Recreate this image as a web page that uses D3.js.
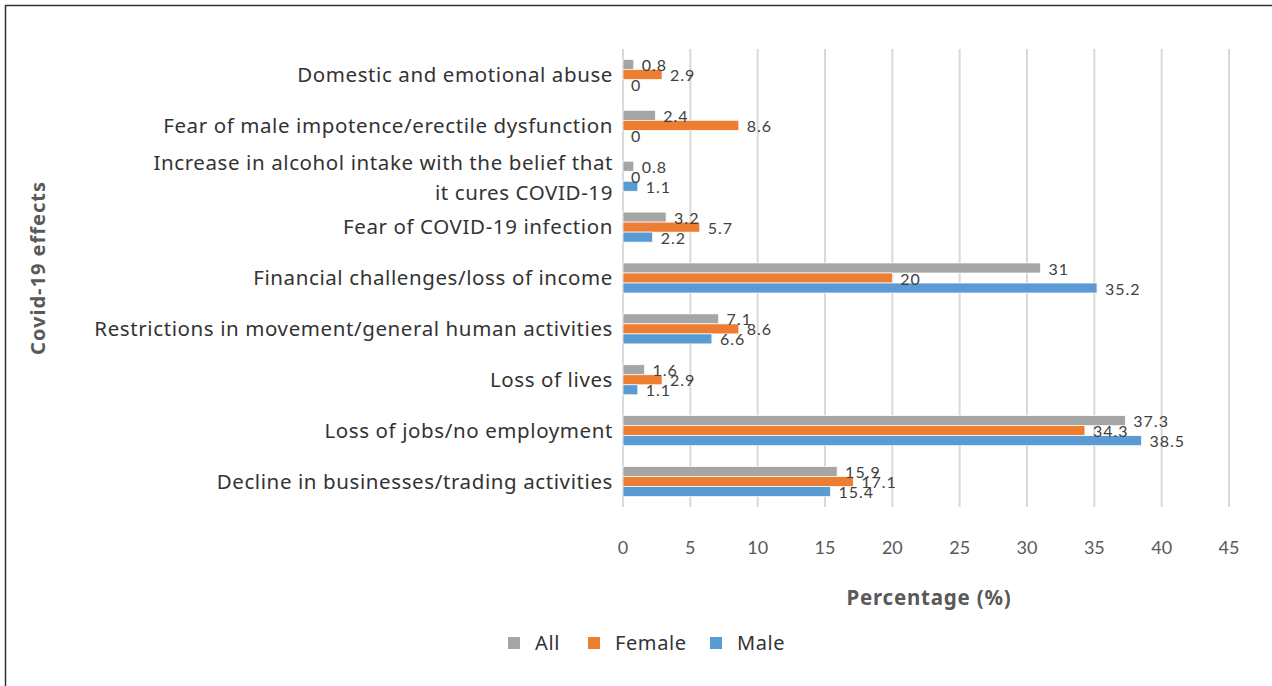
<!DOCTYPE html>
<html>
<head>
<meta charset="utf-8">
<script src="https://cdn.jsdelivr.net/npm/d3@7"></script>
<style>
  body { margin: 0; background: #fff; }
  svg { display: block; }
</style>
</head>
<body>
<script>
// chart data
var categories = [
    "Domestic and emotional abuse",
    "Fear of male impotence/erectile dysfunction",
    "Increase in alcohol intake with the belief that|it cures COVID-19",
    "Fear of COVID-19 infection",
    "Financial challenges/loss of income",
    "Restrictions in movement/general human activities",
    "Loss of lives",
    "Loss of jobs/no employment",
    "Decline in businesses/trading activities"
];
var seriesNames = ["All", "Female", "Male"];
var allValues    = [0.8, 2.4, 0.8, 3.2, 31, 7.1, 1.6, 37.3, 15.9];
var femaleValues = [2.9, 8.6, 0, 5.7, 20, 8.6, 2.9, 34.3, 17.1];
var maleValues   = [0, 0, 1.1, 2.2, 35.2, 6.6, 1.1, 38.5, 15.4];
var xTicks = [0, 5, 10, 15, 20, 25, 30, 35, 40, 45];
var seriesColors = ["#a5a5a5", "#ed7d31", "#5b9bd5"];

var width = 1272, height = 686;
var plot = { left: 623, right: 1229, top: 49, bottom: 507 };

var svg = d3.select("body").append("svg")
    .attr("width", width)
    .attr("height", height);

// frame lines (top + left only)
svg.append("line").attr("x1", 5).attr("x2", width).attr("y1", 5.5).attr("y2", 5.5)
    .attr("stroke", "#333").attr("stroke-width", 1.5);
svg.append("line").attr("x1", 5.5).attr("x2", 5.5).attr("y1", 5).attr("y2", height)
    .attr("stroke", "#333").attr("stroke-width", 1.5);

var x = d3.scaleLinear().domain([0, 45]).range([plot.left, plot.right]);
var y = d3.scaleBand().domain(categories).range([plot.top, plot.bottom])
    .paddingInner(0.41).paddingOuter(0.205);
var ySub = d3.scaleBand().domain(seriesNames).range([0, y.bandwidth()]);

// gridlines
svg.append("g").selectAll("line").data(xTicks).join("line")
    .attr("x1", d => x(d)).attr("x2", d => x(d))
    .attr("y1", plot.top).attr("y2", plot.bottom)
    .attr("stroke", "#d9d9d9").attr("stroke-width", 2);

// tick labels
svg.append("g").selectAll("text").data(xTicks).join("text")
    .attr("x", d => x(d)).attr("y", 548)
    .attr("text-anchor", "middle").attr("dy", "0.35em")
    .attr("font-family", "Lato, 'Noto Sans', sans-serif").attr("font-size", 18)
    .attr("fill", "#595959")
    .text(d => d);

var rows = categories.map(function (c, i) {
    return { cat: c, values: [allValues[i], femaleValues[i], maleValues[i]] };
});

var groups = svg.append("g").selectAll("g").data(rows).join("g")
    .attr("transform", d => "translate(0," + y(d.cat) + ")");

groups.selectAll("rect").data(d => d.values.map((v, k) => ({ v: v, s: seriesNames[k], k: k })))
    .join("rect")
    .attr("x", x(0))
    .attr("y", d => ySub(d.s))
    .attr("width", d => x(d.v) - x(0))
    .attr("height", ySub.bandwidth())
    .attr("fill", d => seriesColors[d.k])
    .attr("stroke", "#fff").attr("stroke-width", 0.7);

groups.selectAll("text.val").data(d => d.values.map((v, k) => ({ v: v, s: seriesNames[k] })))
    .join("text").attr("class", "val")
    .attr("x", d => x(d.v) + 8)
    .attr("y", d => ySub(d.s) + ySub.bandwidth() / 2 + 1)
    .attr("dy", "0.35em")
    .attr("font-family", "Lato, 'Noto Sans', sans-serif").attr("font-size", 16)
    .attr("letter-spacing", 1)
    .attr("fill", "#404040")
    .text(d => d.v);

// category labels
var catLabels = svg.append("g").selectAll("text").data(categories).join("text")
    .attr("x", 613)
    .attr("y", d => y(d) + y.bandwidth() / 2)
    .attr("text-anchor", "end")
    .attr("font-family", "'Noto Sans', sans-serif").attr("font-size", 20.5)
    .attr("letter-spacing", 0.6)
    .attr("fill", "#333");
catLabels.each(function (d) {
    var lines = d.split("|");
    var t = d3.select(this);
    var off = -(lines.length - 1) / 2 * 30 + (lines.length > 1 ? 2 : 0);
    lines.forEach(function (ln, i) {
        t.append("tspan").attr("x", 613)
            .attr("y", y(d) + y.bandwidth() / 2 + off + i * 30)
            .attr("dy", "0.35em")
            .text(ln);
    });
});

// axis titles
svg.append("text")
    .attr("x", (plot.left + plot.right) / 2 + 3).attr("y", 598)
    .attr("text-anchor", "middle").attr("dy", "0.35em")
    .attr("font-family", "'Noto Sans', sans-serif").attr("font-size", 20.5)
    .attr("letter-spacing", 0.8)
    .attr("font-weight", "bold").attr("fill", "#595959")
    .text("Percentage (%)");

svg.append("text")
    .attr("transform", "translate(38,268) rotate(-90)")
    .attr("text-anchor", "middle").attr("dy", "0.35em")
    .attr("font-family", "'Noto Sans', sans-serif").attr("font-size", 20)
    .attr("letter-spacing", 1)
    .attr("font-weight", "bold").attr("fill", "#595959")
    .text("Covid-19 effects");

// legend
var legendX = [508, 588, 710];
var legend = svg.append("g").selectAll("g").data(seriesNames).join("g")
    .attr("transform", (d, i) => "translate(" + legendX[i] + ",643)");
legend.append("rect").attr("x", 0).attr("y", -6).attr("width", 12).attr("height", 12)
    .attr("fill", (d, i) => seriesColors[i]);
legend.append("text").attr("x", 27).attr("dy", "0.35em")
    .attr("font-family", "'Noto Sans', sans-serif").attr("font-size", 20)
    .attr("letter-spacing", 0.6)
    .attr("fill", "#333")
    .text(d => d);
</script>
</body>
</html>
